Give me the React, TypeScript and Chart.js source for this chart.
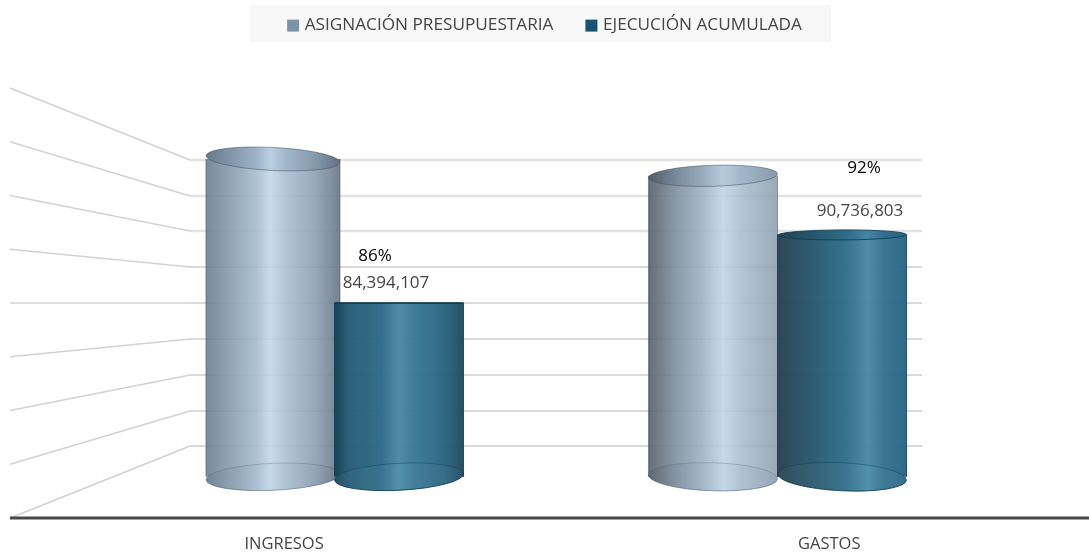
import React, { useEffect, useRef } from "react";
import { Chart, registerables } from "chart.js";

Chart.register(...registerables);

const categories = ["INGRESOS", "GASTOS"];
const seriesNames = ["ASIGNACIÓN PRESUPUESTARIA", "EJECUCIÓN ACUMULADA"];
// heights, on the picture's own back-wall axis
const baseLevel = 11.5;
const asignacionTops = [100.2, 95.5];
const ejecucionTops = [60, 79];
const ejecucionLabels = ["84,394,107", "90,736,803"];
const percentLabels = ["86%", "92%"];
const wallTicks = [20, 30, 40, 50, 60, 70, 80, 90, 100];

const FONT = '"Open Sans", sans-serif';

type Stop = [number, string];
const asignacionStops: Stop[][] = [
  [[0, "rgba(106,126,144,A)"], [0.2, "rgba(138,158,176,A)"], [0.38, "rgba(166,188,208,A)"], [0.48, "rgba(196,216,233,A)"], [0.6, "rgba(170,190,210,A)"], [0.82, "rgba(140,158,176,A)"], [1, "rgba(102,116,132,A)"]],
  [[0, "rgba(86,94,104,A)"], [0.22, "rgba(128,144,160,A)"], [0.42, "rgba(160,178,196,A)"], [0.58, "rgba(192,213,230,A)"], [0.72, "rgba(172,190,208,A)"], [1, "rgba(142,160,178,A)"]],
];
const ejecucionStops: Stop[][] = [
  [[0, "rgba(22,66,88,A)"], [0.12, "rgba(38,92,118,A)"], [0.36, "rgba(44,106,136,A)"], [0.5, "rgba(72,138,168,A)"], [0.62, "rgba(56,120,150,A)"], [0.85, "rgba(42,100,128,A)"], [1, "rgba(30,74,96,A)"]],
  [[0, "rgba(38,64,80,A)"], [0.28, "rgba(40,88,110,A)"], [0.55, "rgba(48,112,140,A)"], [0.7, "rgba(72,138,168,A)"], [0.82, "rgba(52,114,144,A)"], [1, "rgba(40,102,132,A)"]],
];
const stopsByDataset = [asignacionStops, ejecucionStops];
const bodyAlpha = [0.9, 0.97];

// cap shape per dataset / category: depth and tilt of the ellipses
const topDepth = [[11.5, 10.5], [0, 5]];
const topTilt = [[0.05, -0.03], [0, -0.005]];
const bottomDepth = [[13.5, 14], [13.5, 14]];
const bottomTilt = [[-0.045, 0.03], [-0.05, 0.05]];
const edgeColors = ["rgba(70,90,110,.55)", "rgba(14,60,84,.85)"];

const labelOffsets = [
  { pctX: -24, pctY: 47, valX: -13, valY: 20 },
  { pctX: 22, pctY: 67, valX: 18, valY: 24 },
];

function gradientFor(ctx: CanvasRenderingContext2D, el: any, stops: Stop[], alpha: number) {
  const g = ctx.createLinearGradient(el.x - el.width / 2, 0, el.x + el.width / 2, 0);
  stops.forEach(([o, c]) => g.addColorStop(o, c.replace("A", String(alpha))));
  return g;
}

function drawCaps(chart: any, d: number) {
  const ctx: CanvasRenderingContext2D = chart.ctx;
  chart.getDatasetMeta(d).data.forEach((el: any, i: number) => {
    const rx = el.width / 2;
    const solid = gradientFor(ctx, el, stopsByDataset[d][i], 1);
    ctx.save();
    ctx.strokeStyle = edgeColors[d];
    ctx.lineWidth = 1;
    // bottom
    const bd = bottomDepth[d][i];
    const bt = bottomTilt[d][i];
    ctx.fillStyle = solid;
    ctx.beginPath();
    ctx.ellipse(el.x, el.base, rx, bd, bt, 0, Math.PI * 2);
    ctx.fill();
    ctx.fillStyle = "rgba(255,255,255,.06)";
    ctx.fill();
    ctx.beginPath();
    ctx.ellipse(el.x, el.base, rx, bd, bt, 0, Math.PI);
    ctx.stroke();
    ctx.globalAlpha = 0.5;
    ctx.beginPath();
    ctx.ellipse(el.x, el.base, rx, bd, bt, Math.PI, Math.PI * 2);
    ctx.stroke();
    ctx.globalAlpha = 1;
    // sides
    ctx.beginPath();
    ctx.moveTo(el.x - rx, el.y);
    ctx.lineTo(el.x - rx, el.base);
    ctx.moveTo(el.x + rx, el.y);
    ctx.lineTo(el.x + rx, el.base);
    ctx.stroke();
    // top
    const td = topDepth[d][i];
    const tt = topTilt[d][i];
    if (td > 0) {
      ctx.fillStyle = solid;
      ctx.beginPath();
      ctx.ellipse(el.x, el.y, rx, td, tt, 0, Math.PI * 2);
      ctx.fill();
      ctx.fillStyle = "rgba(40,60,80,.06)";
      ctx.fill();
      ctx.stroke();
    } else {
      ctx.lineWidth = 2;
      ctx.beginPath();
      ctx.moveTo(el.x - rx, el.y);
      ctx.lineTo(el.x + rx, el.y);
      ctx.stroke();
    }
    ctx.restore();
  });
}

const cylinderPlugin = {
  id: "cylinders",
  beforeLayout(chart: any) {
    const legend = chart.legend;
    if (legend && !legend.__wrapped) {
      legend.__wrapped = true;
      const fit = legend.fit;
      legend.fit = function () {
        fit.call(this);
        this.height = 88;
      };
    }
  },
  afterLayout(chart: any) {
    const legend = chart.legend;
    legend.left -= 10;
    legend.right -= 10;
    legend.top -= 18;
  },
  afterDatasetsUpdate(chart: any) {
    const first = chart.getDatasetMeta(0).data[0];
    first.x += 3;
    first.width += 5;
    [0, 1].forEach((d) => {
      chart.getDatasetMeta(d).data.forEach((el: any, i: number) => {
        el.options = { ...el.options, backgroundColor: gradientFor(chart.ctx, el, stopsByDataset[d][i], bodyAlpha[d]) };
      });
    });
  },
  beforeDraw(chart: any) {
    const ctx: CanvasRenderingContext2D = chart.ctx;
    ctx.save();
    ctx.fillStyle = "#ffffff";
    ctx.fillRect(0, 0, chart.width, chart.height);
    ctx.fillStyle = "#f8f8f8";
    ctx.fillRect(250, 5, 581, 37);
    ctx.restore();
  },
  beforeDatasetsDraw(chart: any) {
    const ctx: CanvasRenderingContext2D = chart.ctx;
    const y = chart.scales.y;
    const wallLeft = 190;
    const wallRight = 922;
    const outer = 10;
    ctx.save();
    wallTicks.forEach((v) => {
      const py = Math.round(y.getPixelForValue(v));
      const dark = v === 70;
      ctx.strokeStyle = dark ? "#b4b4b4" : v >= 80 ? "#e2e2e2" : "#dadada";
      ctx.lineWidth = dark ? 1.2 : v >= 80 ? 2.4 : 2;
      ctx.beginPath();
      ctx.moveTo(wallLeft, py);
      ctx.lineTo(wallRight, py);
      ctx.stroke();
      ctx.strokeStyle = "#d2d2d2";
      ctx.lineWidth = 1.6;
      ctx.beginPath();
      ctx.moveTo(outer, y.getPixelForValue((v - 20) * 1.5));
      ctx.lineTo(wallLeft, py);
      ctx.stroke();
    });
    ctx.strokeStyle = "#484848";
    ctx.lineWidth = 3;
    ctx.beginPath();
    ctx.moveTo(outer, y.getPixelForValue(0));
    ctx.lineTo(chart.width, y.getPixelForValue(0));
    ctx.stroke();
    ctx.restore();
  },
  beforeDatasetDraw(_chart: any, args: any) {
    if (args.index === 1) return false;
  },
  afterDatasetDraw(chart: any, args: any) {
    if (args.index !== 0) return;
    drawCaps(chart, 0);
    chart.getDatasetMeta(1).controller.draw();
    drawCaps(chart, 1);
  },
  afterDatasetsDraw(chart: any) {
    const ctx: CanvasRenderingContext2D = chart.ctx;
    ctx.save();
    ctx.textAlign = "center";
    ctx.textBaseline = "middle";
    ctx.font = `17px ${FONT}`;
    chart.getDatasetMeta(1).data.forEach((el: any, i: number) => {
      const o = labelOffsets[i];
      ctx.fillStyle = "#000000";
      ctx.fillText(percentLabels[i], el.x + o.pctX, el.y - o.pctY);
      ctx.fillStyle = "#444444";
      ctx.fillText(ejecucionLabels[i], el.x + o.valX, el.y - o.valY);
    });
    ctx.restore();
  },
};

export default function App() {
  const ref = useRef<HTMLCanvasElement>(null);
  useEffect(() => {
    if (!ref.current) return;
    const chart = new Chart(ref.current, {
      type: "bar",
      data: {
        labels: categories,
        datasets: [
          {
            label: seriesNames[0],
            data: asignacionTops.map((v) => [baseLevel, v]),
            backgroundColor: "#8ba1b3",
            borderColor: "#7d94a7",
          } as any,
          {
            label: seriesNames[1],
            data: ejecucionTops.map((v) => [baseLevel, v]),
            backgroundColor: "#1f5d7c",
            borderColor: "#1a5270",
          } as any,
        ],
      },
      options: {
        responsive: false,
        animation: false,
        layout: { padding: { left: 113, right: 90, top: 0, bottom: 0 } },
        datasets: { bar: { barPercentage: 1, categoryPercentage: 0.5826, borderWidth: 0 } },
        plugins: {
          tooltip: { enabled: false },
          legend: {
            display: true,
            position: "top",
            labels: {
              boxWidth: 6,
              boxHeight: 6,
              padding: 35,
              color: "#444444",
              font: { family: FONT, size: 17.2 },
              generateLabels: (c: any) =>
                c.data.datasets.map((ds: any, i: number) => ({
                  text: ds.label,
                  fillStyle: ds.backgroundColor,
                  strokeStyle: ds.borderColor,
                  lineWidth: 6,
                  fontColor: "#444444",
                  datasetIndex: i,
                })),
            },
          },
        },
        scales: {
          x: { type: "category", display: false, offset: true },
          y: { type: "linear", display: false, min: 0, max: 120, ticks: { stepSize: 10 } },
          x2: {
            type: "linear",
            axis: "x",
            position: "bottom",
            offset: false,
            min: -0.3138,
            max: 1.3114,
            grid: { display: false, offset: false },
            border: { display: false },
            afterBuildTicks: (s: any) => {
              s.ticks = [{ value: 0 }, { value: 1 }];
            },
            afterFit: (s: any) => {
              s.height = 35;
            },
            ticks: {
              autoSkip: false,
              maxRotation: 0,
              padding: 8,
              color: "#444444",
              font: { family: FONT, size: 16.5 },
              callback: (v: any) => categories[v] ?? "",
            },
          },
        },
      } as any,
      plugins: [cylinderPlugin as any],
    });
    return () => chart.destroy();
  }, []);
  return (
    <canvas
      ref={ref}
      width={1089}
      height={553}
      style={{ position: "absolute", left: 0, top: 0, width: 1089, height: 553 }}
    />
  );
}
